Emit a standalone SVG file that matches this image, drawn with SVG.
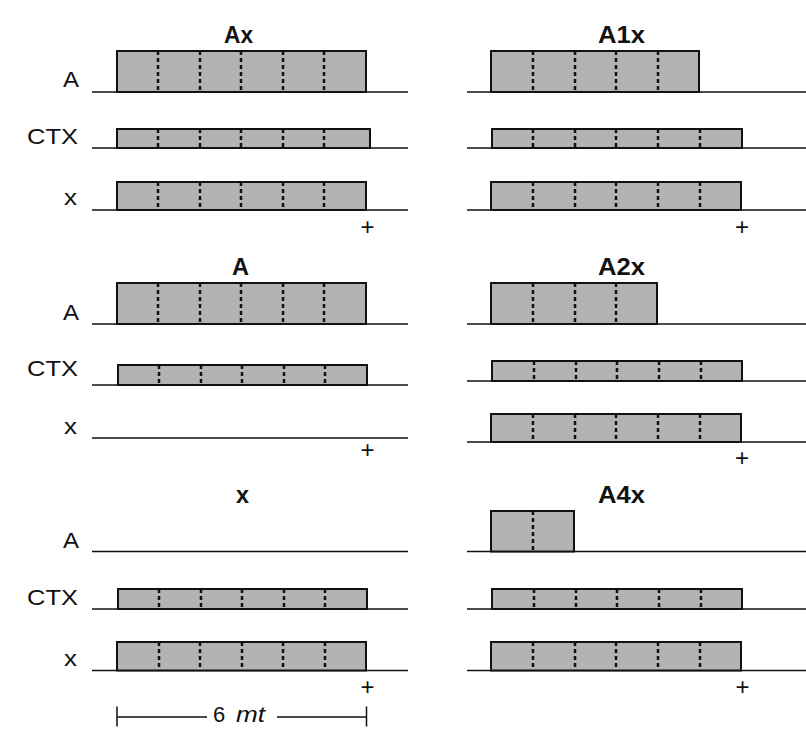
<svg xmlns="http://www.w3.org/2000/svg" width="806" height="753" viewBox="0 0 806 753">
<style>
  .bg{fill:#ffffff}
  .box{fill:#b3b3b3;stroke:#111111;stroke-width:2}
  .base{stroke:#111111;stroke-width:1.5;fill:none}
  .dash{stroke:#111111;stroke-width:2.5;stroke-dasharray:4 3;fill:none}
  .lbl{font-family:"Liberation Sans",Arial,sans-serif;font-size:22px;fill:#111111}
  .ttl{font-family:"Liberation Sans",Arial,sans-serif;font-size:23px;font-weight:bold;fill:#111111;text-anchor:middle}
  .plus{font-family:"Liberation Sans",Arial,sans-serif;font-size:24px;fill:#111111;text-anchor:middle}
  .scale{stroke:#111111;stroke-width:1.5;fill:none}
</style>
<rect class="bg" x="0" y="0" width="806" height="753"/>

<!-- Panel Ax -->
<g id="panel-Ax">
  <text class="ttl" x="238.5" y="43" textLength="29" lengthAdjust="spacingAndGlyphs">Ax</text>
  <text class="lbl" x="63" y="86.5" textLength="16" lengthAdjust="spacingAndGlyphs">A</text>
  <text class="lbl" x="27" y="143.5" textLength="51" lengthAdjust="spacingAndGlyphs">CTX</text>
  <text class="lbl" x="64" y="205" textLength="13" lengthAdjust="spacingAndGlyphs">x</text>
  <line class="base" x1="92" y1="92" x2="408" y2="92"/>
  <rect class="box" x="117" y="51" width="249" height="41"/>
  <path class="dash" d="M158 51V92M200 51V92M241 51V92M283 51V92M324 51V92"/>
  <line class="base" x1="92" y1="148" x2="408" y2="148"/>
  <rect class="box" x="117" y="129" width="253" height="19"/>
  <path class="dash" d="M158 129V148M200 129V148M241 129V148M283 129V148M324 129V148"/>
  <line class="base" x1="92" y1="210" x2="408" y2="210"/>
  <rect class="box" x="117" y="182" width="249" height="28"/>
  <path class="dash" d="M158 182V210M200 182V210M241 182V210M283 182V210M324 182V210"/>
  <text class="plus" x="367.5" y="235">+</text>
</g>

<!-- Panel A1x -->
<g id="panel-A1x">
  <text class="ttl" x="621.5" y="43" textLength="47" lengthAdjust="spacingAndGlyphs">A1x</text>
  <line class="base" x1="467" y1="92" x2="806" y2="92"/>
  <rect class="box" x="491" y="51" width="208" height="41"/>
  <path class="dash" d="M533 51V92M575 51V92M616 51V92M658 51V92"/>
  <line class="base" x1="467" y1="148" x2="806" y2="148"/>
  <rect class="box" x="492" y="129" width="250" height="19"/>
  <path class="dash" d="M533 129V148M575 129V148M616 129V148M658 129V148M700 129V148"/>
  <line class="base" x1="467" y1="210" x2="806" y2="210"/>
  <rect class="box" x="491" y="182" width="250" height="28"/>
  <path class="dash" d="M533 182V210M575 182V210M616 182V210M658 182V210M700 182V210"/>
  <text class="plus" x="742" y="235">+</text>
</g>

<!-- Panel A -->
<g id="panel-A">
  <text class="ttl" x="240.5" y="275" textLength="17" lengthAdjust="spacingAndGlyphs">A</text>
  <text class="lbl" x="63" y="320" textLength="16" lengthAdjust="spacingAndGlyphs">A</text>
  <text class="lbl" x="27" y="376" textLength="51" lengthAdjust="spacingAndGlyphs">CTX</text>
  <text class="lbl" x="64" y="434" textLength="13" lengthAdjust="spacingAndGlyphs">x</text>
  <line class="base" x1="92" y1="324" x2="408" y2="324"/>
  <rect class="box" x="117" y="283" width="249" height="41"/>
  <path class="dash" d="M158 283V324M200 283V324M241 283V324M283 283V324M324 283V324"/>
  <line class="base" x1="92" y1="385" x2="408" y2="385"/>
  <rect class="box" x="118" y="365" width="249" height="20"/>
  <path class="dash" d="M159 365V385M201 365V385M242 365V385M284 365V385M325 365V385"/>
  <line class="base" x1="92" y1="438" x2="408" y2="438"/>
  <text class="plus" x="367.5" y="458">+</text>
</g>

<!-- Panel A2x -->
<g id="panel-A2x">
  <text class="ttl" x="621.5" y="275" textLength="47" lengthAdjust="spacingAndGlyphs">A2x</text>
  <line class="base" x1="467" y1="324" x2="806" y2="324"/>
  <rect class="box" x="491" y="283" width="166" height="41"/>
  <path class="dash" d="M533 283V324M575 283V324M616 283V324"/>
  <line class="base" x1="467" y1="381" x2="806" y2="381"/>
  <rect class="box" x="492" y="361" width="250" height="20"/>
  <path class="dash" d="M534 361V381M576 361V381M617 361V381M659 361V381M701 361V381"/>
  <line class="base" x1="467" y1="442" x2="806" y2="442"/>
  <rect class="box" x="491" y="414" width="250" height="28"/>
  <path class="dash" d="M533 414V442M575 414V442M616 414V442M658 414V442M700 414V442"/>
  <text class="plus" x="742" y="466">+</text>
</g>

<!-- Panel x -->
<g id="panel-x">
  <text class="ttl" x="242.5" y="503" textLength="13" lengthAdjust="spacingAndGlyphs">x</text>
  <text class="lbl" x="63" y="548" textLength="16" lengthAdjust="spacingAndGlyphs">A</text>
  <text class="lbl" x="27" y="605" textLength="51" lengthAdjust="spacingAndGlyphs">CTX</text>
  <text class="lbl" x="64" y="666" textLength="13" lengthAdjust="spacingAndGlyphs">x</text>
  <line class="base" x1="92" y1="551.5" x2="408" y2="551.5"/>
  <line class="base" x1="92" y1="609" x2="408" y2="609"/>
  <rect class="box" x="118" y="589" width="249" height="20"/>
  <path class="dash" d="M159 589V609M201 589V609M242 589V609M284 589V609M325 589V609"/>
  <line class="base" x1="92" y1="670.5" x2="408" y2="670.5"/>
  <rect class="box" x="117" y="642" width="249" height="28.5"/>
  <path class="dash" d="M159 642V670.5M200 642V670.5M242 642V670.5M283 642V670.5M325 642V670.5"/>
  <text class="plus" x="367.5" y="695">+</text>
</g>

<!-- Panel A4x -->
<g id="panel-A4x">
  <text class="ttl" x="621.5" y="503" textLength="47" lengthAdjust="spacingAndGlyphs">A4x</text>
  <line class="base" x1="467" y1="551.5" x2="806" y2="551.5"/>
  <rect class="box" x="491" y="511" width="83" height="40.5"/>
  <path class="dash" d="M533 511V551.5"/>
  <line class="base" x1="467" y1="609" x2="806" y2="609"/>
  <rect class="box" x="492" y="589" width="250" height="20"/>
  <path class="dash" d="M534 589V609M576 589V609M617 589V609M659 589V609M701 589V609"/>
  <line class="base" x1="467" y1="670.5" x2="806" y2="670.5"/>
  <rect class="box" x="491" y="642" width="250" height="28.5"/>
  <path class="dash" d="M533 642V670.5M575 642V670.5M616 642V670.5M658 642V670.5M700 642V670.5"/>
  <text class="plus" x="742.5" y="695">+</text>
</g>

<!-- Scale bar -->
<g id="scale-bar">
  <path class="scale" d="M117 706.5V726.5M366.5 706.5V726.5M117 717H207M277 717H366.5"/>
  <text class="lbl" x="213" y="722"><tspan>6</tspan><tspan x="236" font-style="italic" textLength="29" lengthAdjust="spacingAndGlyphs">mt</tspan></text>
</g>
</svg>
